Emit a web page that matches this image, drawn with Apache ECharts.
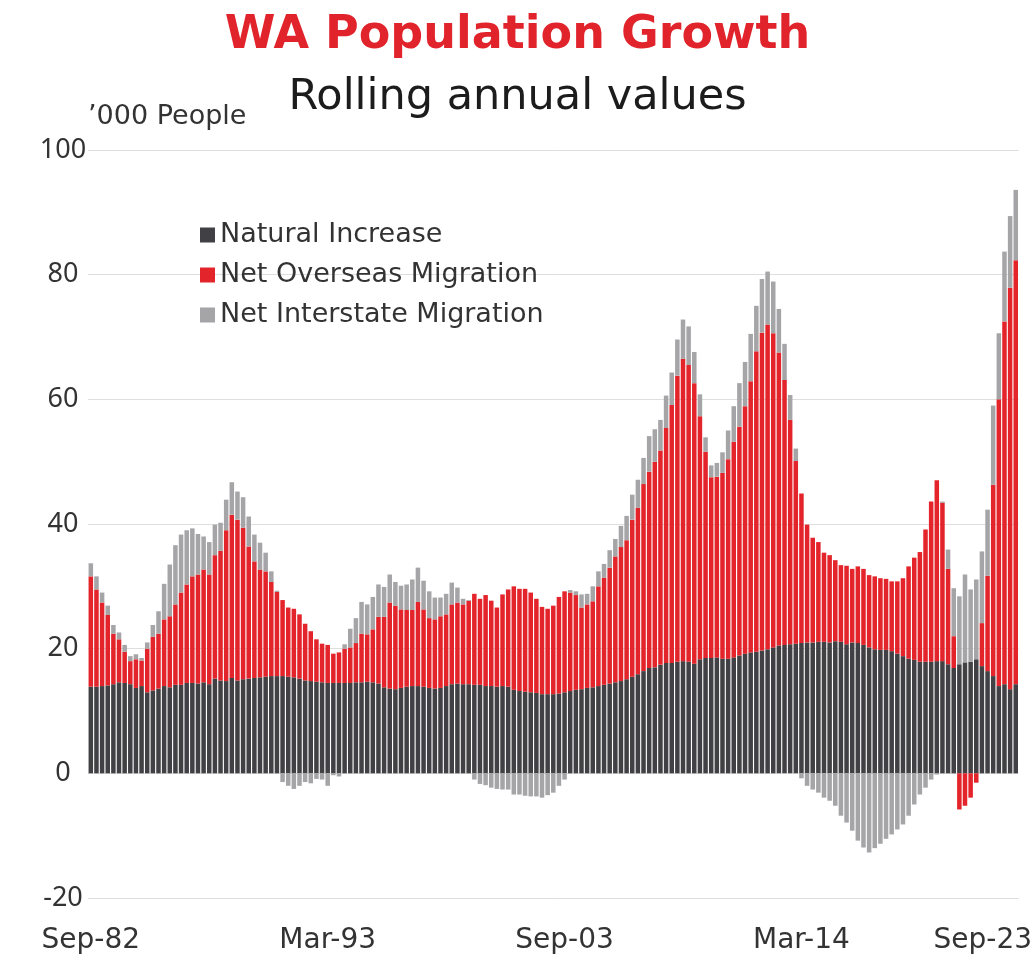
<!DOCTYPE html>
<html>
<head>
<meta charset="utf-8">
<script src="https://cdn.jsdelivr.net/npm/echarts@6/dist/echarts.min.js"></script>
<style>
  html, body { margin: 0; padding: 0; background: #ffffff; }
  #chart { width: 1035px; height: 955px; }
</style>
</head>
<body>
<div id="chart"></div>
<script>
// ---- Data (quarterly, rolling annual, '000 people), Sep-82 .. Sep-23 ----
const startYear = 1982;      // first quarter: Sep-82
const startQuarterMonth = 2; // index into quarterMonths (Sep)
const quarterMonths = ['Mar', 'Jun', 'Sep', 'Dec'];
const tickLabelIndexes = [0, 42, 84, 126, 164];

const naturalIncrease = [
  13.9,13.9,14.0,14.1,14.3,14.6,14.5,14.3,13.7,14.0,
  13.0,13.3,13.6,14.0,13.8,14.2,14.2,14.5,14.5,14.4,
  14.6,14.3,15.2,14.9,14.8,15.3,14.9,15.1,15.2,15.3,
  15.4,15.5,15.6,15.6,15.6,15.5,15.4,15.2,14.9,14.8,
  14.7,14.6,14.5,14.5,14.5,14.5,14.5,14.6,14.6,14.7,
  14.6,14.4,13.8,13.6,13.5,13.7,13.9,14.0,14.0,13.9,
  13.7,13.6,13.7,14.0,14.3,14.4,14.3,14.3,14.2,14.2,
  14.0,14.0,13.9,14.0,13.9,13.4,13.2,13.1,13.0,12.9,
  12.7,12.7,12.7,12.8,13.0,13.2,13.4,13.5,13.7,13.8,
  14.0,14.2,14.4,14.6,14.8,15.1,15.5,15.9,16.4,16.9,
  17.0,17.4,17.7,17.7,17.9,18.0,17.9,17.6,18.3,18.5,
  18.5,18.6,18.4,18.4,18.6,18.9,19.2,19.4,19.5,19.7,
  19.9,20.2,20.5,20.6,20.7,20.8,20.9,21.0,21.0,21.1,
  21.1,21.0,21.2,21.1,20.7,21.0,20.9,20.6,20.2,19.9,
  19.8,19.8,19.6,19.2,18.8,18.4,18.2,17.9,17.9,17.9,
  18.0,18.0,17.5,16.9,17.5,17.8,17.9,18.3,17.2,16.4,
  15.6,14.0,14.3,13.5,14.3
];

const netOverseasMigration = [
  17.7,15.6,13.4,11.3,8.1,6.9,5.0,3.7,4.6,4.1,
  7.0,8.6,8.8,10.7,11.4,12.9,14.8,15.8,17.1,17.5,
  18.1,17.6,19.8,20.8,24.2,26.2,25.8,24.3,21.2,18.7,
  17.3,16.9,15.1,13.5,12.2,11.1,11.0,10.3,9.1,8.0,
  6.8,6.2,6.1,4.7,4.9,5.5,5.7,6.3,7.8,7.6,
  8.5,10.7,11.3,13.8,13.4,12.6,12.3,12.2,13.5,12.4,
  11.2,11.1,11.5,11.5,12.8,13.0,12.8,13.4,14.6,13.8,
  14.6,13.7,12.7,14.7,15.6,16.6,16.4,16.5,16.0,15.1,
  14.0,13.7,14.2,15.5,16.2,15.8,15.2,13.1,13.4,13.8,
  16.0,17.2,18.6,20.2,21.5,22.3,25.2,26.7,30.0,31.5,
  33.0,34.4,37.7,41.4,45.9,48.5,47.6,45.0,39.0,33.1,
  29.0,29.0,29.8,32.0,34.6,36.7,39.7,43.5,48.2,51.0,
  52.1,50.4,47.0,42.5,36.0,29.3,24.0,18.9,16.8,16.0,
  14.3,14.0,13.0,12.3,12.6,11.8,12.3,12.2,11.6,11.7,
  11.5,11.4,11.2,11.6,12.5,14.8,16.4,17.6,21.2,25.7,
  29.0,25.4,15.3,5.1,-5.8,-5.2,-3.9,-1.5,6.9,15.3,
  30.7,46.0,58.2,64.4,68.0
];

const netInterstateMigration = [
  2.1,2.1,1.6,1.5,1.4,1.1,1.1,0.8,0.8,0.4,
  1.0,1.9,3.6,5.7,8.3,9.5,9.3,8.7,7.7,6.5,
  5.3,5.2,4.9,4.5,4.9,5.2,4.5,4.9,4.8,4.3,
  4.3,3.0,1.7,0.2,-1.4,-2.0,-2.5,-2.0,-1.4,-1.6,
  -0.9,-1.0,-2.0,-0.3,-0.5,0.7,3.0,4.0,5.1,4.8,
  5.2,5.2,4.8,4.5,3.8,3.8,4.1,4.9,5.5,4.6,
  4.3,3.5,3.0,3.3,3.5,2.4,0.9,0.1,-1.0,-1.7,
  -1.9,-2.3,-2.5,-2.6,-2.6,-3.4,-3.4,-3.6,-3.7,-3.7,
  -3.9,-3.5,-3.1,-2.0,-1.0,0.4,0.6,2.1,1.7,2.4,
  2.4,2.2,2.8,2.8,3.4,3.9,4.0,4.5,4.2,5.7,
  5.2,4.9,5.2,5.2,5.8,6.3,6.2,5.0,3.5,2.3,
  1.9,2.2,3.3,4.6,5.7,7.0,7.1,7.6,7.3,8.6,
  8.5,8.3,7.0,5.8,4.0,2.0,-0.8,-2.0,-2.6,-3.1,
  -3.9,-4.4,-5.2,-6.8,-7.9,-9.2,-10.8,-11.9,-12.7,-12.0,
  -11.3,-10.5,-9.8,-9.0,-8.2,-6.8,-5.0,-3.4,-2.3,-1.0,
  -0.2,0.2,3.1,7.7,10.9,14.1,11.6,12.8,11.5,10.6,
  12.7,10.6,11.2,11.5,11.3
];

const seriesNames = ['Natural Increase', 'Net Overseas Migration', 'Net Interstate Migration'];
const seriesColors = ['#414145', '#e3242b', '#a5a5a8'];

// ---- Categories (quarter labels) ----
const categories = [];
for (let i = 0; i < naturalIncrease.length; i++) {
  const q = startQuarterMonth + i;
  const year = startYear + Math.floor(q / 4);
  categories.push(quarterMonths[q % 4] + '-' + String(year % 100).padStart(2, '0'));
}
const lastIndex = categories.length - 1;

const BODY_FONT = '"DejaVu Sans", "Noto Sans", sans-serif';
const LABEL_FONT = '"Noto Sans", "DejaVu Sans", sans-serif';
const chart = echarts.init(document.getElementById('chart'), null, { renderer: 'canvas' });

const barSeries = [naturalIncrease, netOverseasMigration, netInterstateMigration].map((d, k) => ({
  name: seriesNames[k],
  type: 'bar',
  stack: 'total',
  stackStrategy: 'samesign',
  data: d,
  barCategoryGap: '20%',
  itemStyle: { color: seriesColors[k] },
  emphasis: { disabled: true }
}));

chart.setOption({
  animation: false,
  backgroundColor: '#ffffff',
  textStyle: { fontFamily: BODY_FONT },
  title: [
    {
      text: 'WA Population Growth',
      left: 'center', top: 8,
      textStyle: { fontFamily: BODY_FONT, fontSize: 46, fontWeight: 'bold', color: '#e1232b' }
    },
    {
      text: 'Rolling annual values',
      left: 'center', top: 71,
      textStyle: { fontFamily: BODY_FONT, fontSize: 43, fontWeight: 'normal', color: '#1c1c1c' }
    }
  ],
  graphic: [
    {
      type: 'text',
      left: 88, top: 103,
      style: { text: '\u2019000 People', font: '27px "DejaVu Sans", sans-serif', fill: '#333333' }
    }
  ],
  legend: {
    orient: 'vertical',
    left: 195, top: 216,
    icon: 'rect',
    itemWidth: 15, itemHeight: 15,
    itemGap: 12,
    itemStyle: { borderWidth: 0 },
    textStyle: { fontFamily: BODY_FONT, fontSize: 27, lineHeight: 28, color: '#333333', padding: [0, 0, 0, 0] },
    data: seriesNames
  },
  grid: { left: 88, right: 13, top: 150, bottom: 56, containLabel: false },
  xAxis: {
    type: 'category',
    data: categories,
    axisLine: { show: false, onZero: false },
    axisTick: { show: false },
    splitLine: { show: false },
    axisLabel: {
      interval: (idx) => tickLabelIndexes.includes(idx),
      margin: 29,
      fontFamily: BODY_FONT, fontSize: 28, color: '#333333',
      formatter: (v, idx) => idx === lastIndex ? '{last|' + v + '}' : v,
      rich: { last: { fontFamily: BODY_FONT, fontSize: 28, color: '#333333', padding: [0, 66, 0, 0] } }
    }
  },
  yAxis: {
    type: 'value',
    min: -20, max: 100, interval: 20,
    axisLine: { show: false },
    axisTick: { show: false },
    splitLine: { show: true, lineStyle: { color: '#dedede', width: 1 } },
    axisLabel: { margin: 25, align: 'center', fontFamily: LABEL_FONT, fontSize: 27, color: '#333333' }
  },
  series: barSeries
});
</script>
</body>
</html>
